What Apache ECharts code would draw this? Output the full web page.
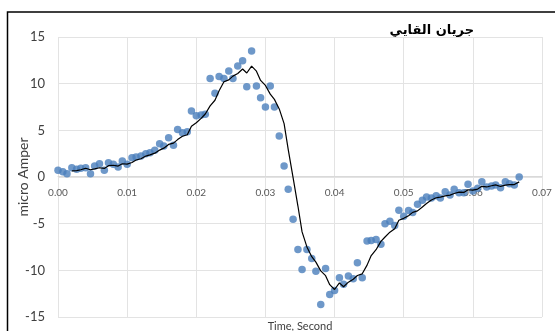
<!DOCTYPE html>
<html>
<head>
<meta charset="utf-8">
<script src="https://cdn.jsdelivr.net/npm/echarts@6/dist/echarts.min.js"></script>
<style>
  html, body { margin: 0; padding: 0; background: #fff; }
  #chart { width: 555px; height: 331px; }
</style>
</head>
<body>
<div id="chart"></div>
<script>
var timeValues = [
    0.0000, 0.0007, 0.0013, 0.0020, 0.0027, 0.0033, 0.0040, 0.0047, 0.0053, 0.0060,
    0.0067, 0.0073, 0.0080, 0.0087, 0.0093, 0.0100, 0.0107, 0.0113, 0.0120, 0.0127,
    0.0133, 0.0140, 0.0147, 0.0153, 0.0160, 0.0167, 0.0173, 0.0180, 0.0187, 0.0193,
    0.0200, 0.0207, 0.0213, 0.0220, 0.0227, 0.0233, 0.0240, 0.0247, 0.0253, 0.0260,
    0.0267, 0.0273, 0.0280, 0.0287, 0.0293, 0.0300, 0.0307, 0.0313, 0.0320, 0.0327,
    0.0333, 0.0340, 0.0347, 0.0353, 0.0360, 0.0367, 0.0373, 0.0380, 0.0387, 0.0393,
    0.0400, 0.0407, 0.0413, 0.0420, 0.0427, 0.0433, 0.0440, 0.0447, 0.0453, 0.0460,
    0.0467, 0.0473, 0.0480, 0.0487, 0.0493, 0.0500, 0.0507, 0.0513, 0.0520, 0.0527,
    0.0533, 0.0540, 0.0547, 0.0553, 0.0560, 0.0567, 0.0573, 0.0580, 0.0587, 0.0593,
    0.0600, 0.0607, 0.0613, 0.0620, 0.0627, 0.0633, 0.0640, 0.0647, 0.0653, 0.0660,
    0.0667
];

var currentValues = [
    0.72, 0.57, 0.35, 1.00, 0.83, 0.93, 1.00, 0.35, 1.18, 1.43,
    0.72, 1.53, 1.36, 1.07, 1.72, 1.36, 2.07, 2.15, 2.25, 2.50,
    2.60, 2.86, 3.57, 3.33, 4.20, 3.40, 5.10, 4.75, 4.85, 7.08,
    6.55, 6.65, 6.73, 10.55, 8.96, 10.76, 10.55, 11.37, 10.55, 11.90,
    12.45, 9.66, 13.50, 9.76, 8.48, 7.51, 9.76, 7.51, 4.40, 1.18,
    -1.32, -4.54, -7.76, -9.90, -7.76, -8.72, -10.09, -13.66, -9.80, -12.60,
    -12.16, -10.80, -11.50, -10.60, -10.90, -9.20, -10.80, -6.87, -6.80, -6.70,
    -7.20, -5.00, -4.75, -5.20, -3.57, -4.20, -3.60, -3.80, -2.93, -2.50,
    -2.15, -2.25, -2.00, -2.25, -1.58, -1.93, -1.32, -1.68, -1.68, -0.79,
    -1.50, -1.20, -0.50, -1.07, -0.97, -0.86, -1.15, -0.50, -0.72, -0.86,
    0.00
];

// excel style moving average trendline, period 4
var maPeriod = 4;

var chartTitle = 'جريان القايي';
var xName = 'Time, Second';
var yName = 'micro Amper';

var points = [];
for (var i = 0; i < timeValues.length; i++) {
    points.push([timeValues[i], currentValues[i]]);
}
var trend = [];
for (var i = maPeriod - 1; i < currentValues.length; i++) {
    var s = 0;
    for (var k = 0; k < maPeriod; k++) s += currentValues[i - k];
    trend.push([timeValues[i], s / maPeriod]);
}

var chart = echarts.init(document.getElementById('chart'));

var option = {
    animation: false,
    backgroundColor: '#fff',
    title: {
        text: chartTitle,
        right: 76,
        top: 19,
        textStyle: {
            fontFamily: 'DejaVu Sans',
            fontSize: 13,
            fontWeight: 'bold',
            color: '#000'
        }
    },
    graphic: [
        {
            type: 'rect',
            shape: { x: 7.5, y: 12, width: 620, height: 400 },
            style: { fill: 'none', stroke: '#000', lineWidth: 1.5 },
            silent: true
        }
    ],
    grid: {
        left: 58,
        right: 13,
        top: 37,
        bottom: 14,
        outerBoundsMode: 'none',
        containLabel: false
    },
    xAxis: {
        type: 'value',
        min: 0,
        max: 0.07,
        interval: 0.01,
        // labels sit under the zero line, as in the excel chart
        offset: -141,
        name: xName,
        nameLocation: 'middle',
        nameGap: 145,
        nameMoveOverlap: false,
        nameTextStyle: { fontFamily: 'Lato', fontSize: 11, color: '#404040' },
        axisLine: { show: true, onZero: false, lineStyle: { color: '#d9d9d9' } },
        axisTick: { show: false },
        axisLabel: {
            fontFamily: 'Lato',
            fontSize: 10,
            color: '#595959',
            margin: 12,
            formatter: function (v) { return v.toFixed(2); }
        },
        splitLine: { show: true, lineStyle: { color: '#e3e3e3' } }
    },
    yAxis: {
        type: 'value',
        min: -15,
        max: 15,
        interval: 5,
        name: yName,
        nameLocation: 'middle',
        nameGap: 28,
        nameMoveOverlap: false,
        nameTextStyle: { fontFamily: 'Lato', fontSize: 14, color: '#404040' },
        axisLine: { show: false, onZero: false },
        axisTick: { show: false },
        axisLabel: {
            fontFamily: 'Lato',
            fontSize: 13,
            color: '#404040',
            margin: 13
        },
        splitLine: { show: true, lineStyle: { color: '#e3e3e3' } }
    },
    series: [
        {
            name: 'points',
            type: 'scatter',
            data: points,
            symbolSize: 7.5,
            itemStyle: { color: '#4a7ebb' },
            z: 2
        },
        {
            name: 'trend',
            type: 'line',
            data: trend,
            showSymbol: false,
            lineStyle: { color: '#000', width: 1.2 },
            z: 3
        }
    ]
};
chart.setOption(option);
</script>
</body>
</html>
